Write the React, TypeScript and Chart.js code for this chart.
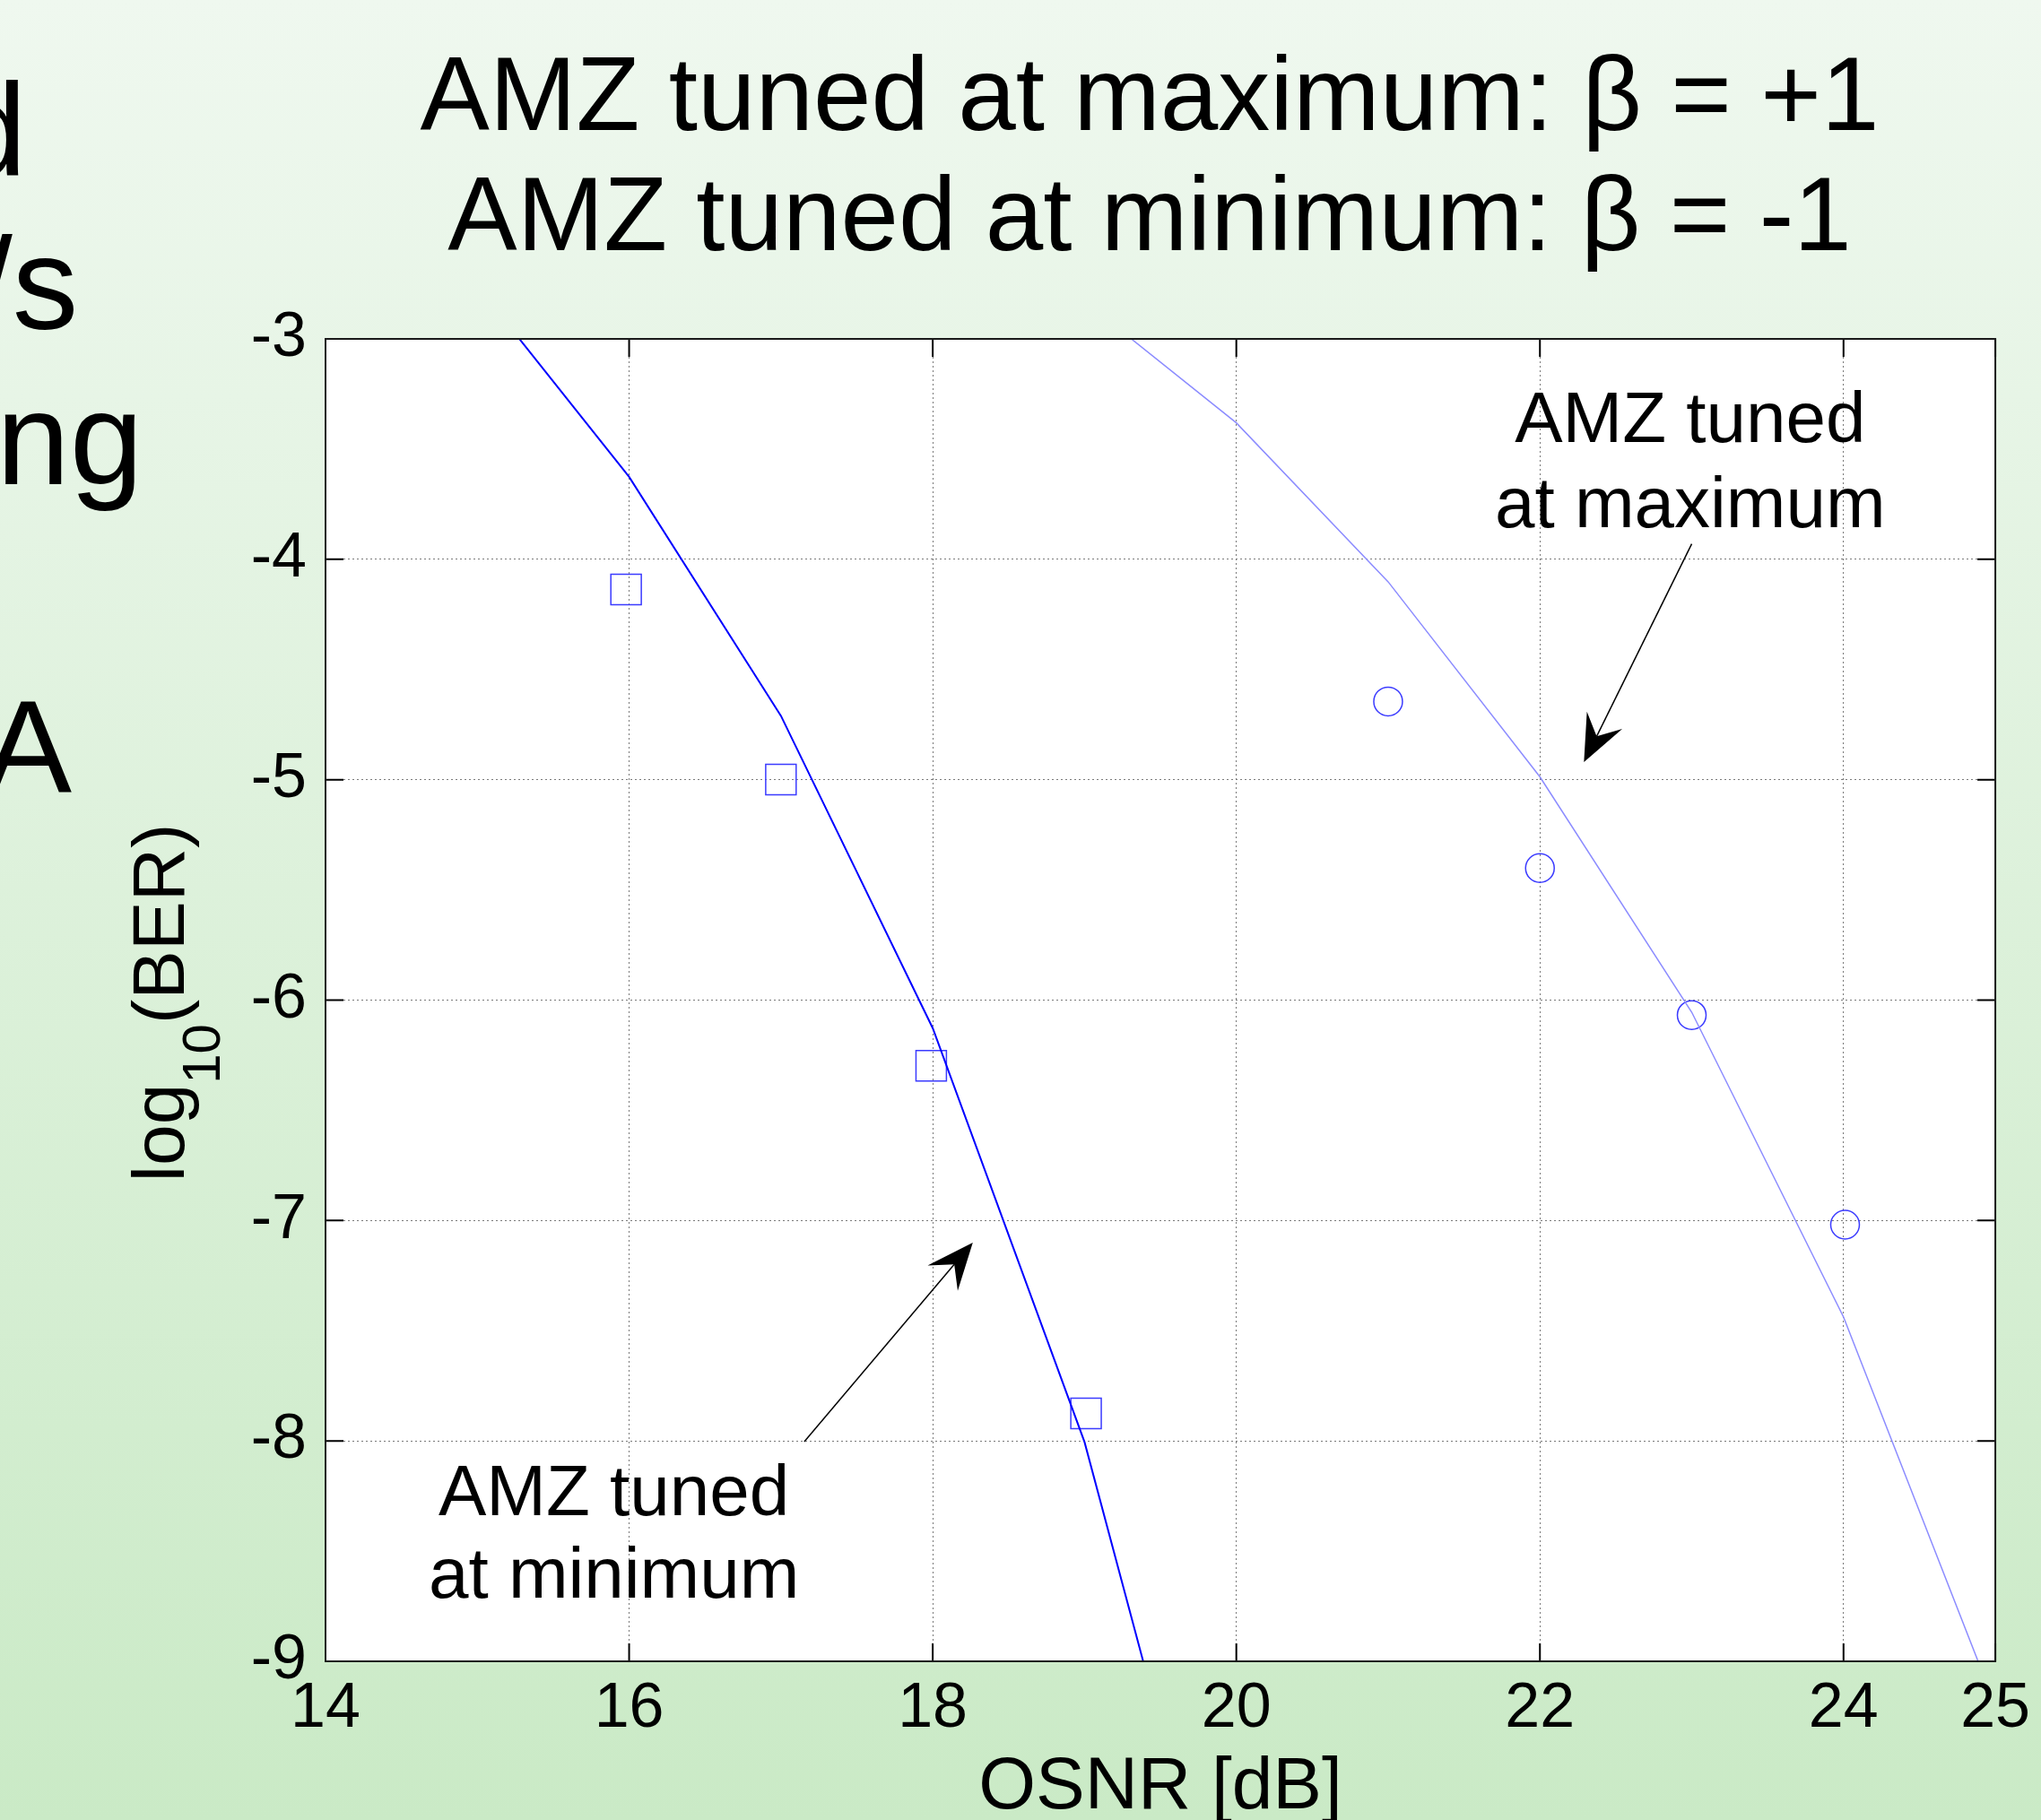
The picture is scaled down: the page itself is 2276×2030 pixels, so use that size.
import React, { useEffect, useRef } from 'react';
import { Chart, registerables } from 'chart.js';

Chart.register(...registerables);

// ---------------- data ----------------
const titleLines = ['AMZ tuned at maximum: β = +1', 'AMZ tuned at minimum: β = -1'];
const xAxisTitle = 'OSNR [dB]';
const yAxisTitleParts = ['log', '10', '(BER)'];
const xTickValues = [14, 16, 18, 20, 22, 24, 25];
const yTickValues = [-3, -4, -5, -6, -7, -8, -9];

// fitted curves
const minFitOsnr = [15, 16, 17, 18, 19, 20];
const minFitLogBer = [-2.76, -3.626, -4.71, -6.127, -8.005, -10.58];
const maxFitOsnr = [19, 20, 21, 22, 23, 24, 25];
const maxFitLogBer = [-2.83, -3.381, -4.102, -4.987, -6.055, -7.438, -9.2];

// measured points
const minMeasOsnr = [15.98, 17.0, 17.99, 19.01];
const minMeasLogBer = [-4.137, -4.999, -6.298, -7.875];
const maxMeasOsnr = [21.0, 22.0, 23.0, 24.01];
const maxMeasLogBer = [-4.645, -5.401, -6.068, -7.019];

// annotations (data coordinates)
const annotationText = [['AMZ tuned', 'at maximum'], ['AMZ tuned', 'at minimum']];
const annotationX = [22.99, 15.9];
const annotationY = [[-3.468, -3.854], [-8.337, -8.711]];
const arrowFrom = [[23.0, -3.93], [17.154, -8.003]];
const arrowTo = [[22.29, -4.92], [18.264, -7.1]];

// clipped slide text at the left edge
const slideFragments = ['d', '/s', 'ng', 'A'];

const FONT = '"Liberation Sans", Arial, Helvetica, sans-serif';

const toPoints = (xs: number[], ys: number[]) => xs.map((x, i) => ({ x, y: ys[i] }));

const decorPlugin = {
  id: 'decor',
  beforeDraw(chart: any) {
    const { ctx, width, height, chartArea: a } = chart;
    ctx.save();
    const g = ctx.createLinearGradient(0, 0, 0, height);
    g.addColorStop(0, '#eff8ef');
    g.addColorStop(1, '#caeac6');
    ctx.fillStyle = g;
    ctx.fillRect(0, 0, width, height);

    ctx.fillStyle = '#000';
    ctx.font = `147px ${FONT}`;
    ctx.textAlign = 'left';
    ctx.textBaseline = 'alphabetic';
    const pos = [[-52, 195], [-27, 367], [-4, 540], [-18, 884]];
    slideFragments.forEach((t, i) => ctx.fillText(t, pos[i][0], pos[i][1]));

    ctx.fillStyle = '#ffffff';
    ctx.fillRect(a.left, a.top, a.right - a.left, a.bottom - a.top);
    ctx.restore();
  },
  afterDraw(chart: any) {
    const { ctx, chartArea: a, scales } = chart;
    const xs = scales.x;
    const ys = scales.y;
    ctx.save();

    // inward tick marks on all four sides
    ctx.strokeStyle = '#000';
    ctx.lineWidth = 2;
    ctx.beginPath();
    xTickValues.forEach((v) => {
      const px = xs.getPixelForValue(v);
      ctx.moveTo(px, a.bottom);
      ctx.lineTo(px, a.bottom - 20);
      ctx.moveTo(px, a.top);
      ctx.lineTo(px, a.top + 20);
    });
    yTickValues.forEach((v) => {
      const py = ys.getPixelForValue(v);
      ctx.moveTo(a.left, py);
      ctx.lineTo(a.left + 20, py);
      ctx.moveTo(a.right, py);
      ctx.lineTo(a.right - 20, py);
    });
    ctx.stroke();

    // box
    ctx.strokeStyle = '#1a1a1a';
    ctx.lineWidth = 2;
    ctx.strokeRect(a.left, a.top, a.right - a.left, a.bottom - a.top);

    // annotation texts
    ctx.fillStyle = '#000';
    ctx.font = `80px ${FONT}`;
    ctx.textAlign = 'center';
    ctx.textBaseline = 'alphabetic';
    annotationText.forEach((lines, i) =>
      lines.forEach((t, j) =>
        ctx.fillText(t, xs.getPixelForValue(annotationX[i]), ys.getPixelForValue(annotationY[i][j]))
      )
    );

    // arrows
    arrowFrom.forEach((f, i) => {
      const x1 = xs.getPixelForValue(f[0]);
      const y1 = ys.getPixelForValue(f[1]);
      const x2 = xs.getPixelForValue(arrowTo[i][0]);
      const y2 = ys.getPixelForValue(arrowTo[i][1]);
      const dx = x2 - x1;
      const dy = y2 - y1;
      const L = Math.hypot(dx, dy);
      const ux = dx / L;
      const uy = dy / L;
      const px = -uy;
      const py = ux;
      const hl = 52;
      const hw = 22;
      const notch = 32;
      ctx.strokeStyle = '#000';
      ctx.lineWidth = 1.5;
      ctx.beginPath();
      ctx.moveTo(x1, y1);
      ctx.lineTo(x2 - ux * notch, y2 - uy * notch);
      ctx.stroke();
      ctx.beginPath();
      ctx.moveTo(x2, y2);
      ctx.lineTo(x2 - ux * hl + px * hw, y2 - uy * hl + py * hw);
      ctx.lineTo(x2 - ux * notch, y2 - uy * notch);
      ctx.lineTo(x2 - ux * hl - px * hw, y2 - uy * hl - py * hw);
      ctx.closePath();
      ctx.fill();
    });

    // title
    ctx.font = `116px ${FONT}`;
    ctx.textAlign = 'center';
    const cx = (a.left + a.right) / 2 - 12;
    ctx.fillText(titleLines[0], cx, 145);
    ctx.fillText(titleLines[1], cx, 279);

    // y axis title with subscript
    const mainF = `82px ${FONT}`;
    const subF = `60px ${FONT}`;
    ctx.font = mainF;
    const w1 = ctx.measureText(yAxisTitleParts[0]).width;
    const w3 = ctx.measureText(yAxisTitleParts[2]).width;
    ctx.font = subF;
    const w2 = ctx.measureText(yAxisTitleParts[1]).width;
    const total = w1 + w2 + w3;
    const cy = (a.top + a.bottom) / 2 + 3;
    ctx.translate(a.left - 158, cy + total / 2);
    ctx.rotate(-Math.PI / 2);
    ctx.textAlign = 'left';
    ctx.font = mainF;
    ctx.fillText(yAxisTitleParts[0], 0, 0);
    ctx.font = subF;
    ctx.fillText(yAxisTitleParts[1], w1, 40);
    ctx.font = mainF;
    ctx.fillText(yAxisTitleParts[2], w1 + w2, 0);

    ctx.restore();
  },
};

export default function App() {
  const ref = useRef<HTMLCanvasElement | null>(null);

  useEffect(() => {
    document.body.style.margin = '0';
    const canvas = ref.current;
    if (!canvas) return;

    const gridOpts = { color: '#7a7a7a', lineWidth: 1, drawTicks: false };
    const borderOpts = { display: false, dash: [2, 3] };

    const chart = new Chart(canvas, {
      type: 'scatter',
      data: {
        datasets: [
          {
            data: toPoints(minFitOsnr, minFitLogBer),
            showLine: true,
            borderColor: '#0000ff',
            borderWidth: 2,
            pointRadius: 0,
            tension: 0,
          },
          {
            data: toPoints(maxFitOsnr, maxFitLogBer),
            showLine: true,
            borderColor: '#8c8cff',
            borderWidth: 1.5,
            pointRadius: 0,
            tension: 0,
          },
          {
            data: toPoints(minMeasOsnr, minMeasLogBer),
            showLine: false,
            pointStyle: 'rect',
            pointRadius: 24,
            pointBorderColor: '#3b3bff',
            pointBackgroundColor: 'rgba(0,0,0,0)',
            pointBorderWidth: 1.5,
          },
          {
            data: toPoints(maxMeasOsnr, maxMeasLogBer),
            showLine: false,
            pointStyle: 'circle',
            pointRadius: 16,
            pointBorderColor: '#3b3bff',
            pointBackgroundColor: 'rgba(0,0,0,0)',
            pointBorderWidth: 1.5,
          },
        ],
      },
      options: {
        responsive: false,
        animation: false,
        events: [],
        devicePixelRatio: 1,
        layout: { padding: { left: 253, right: 40, top: 378, bottom: 0 } },
        plugins: {
          legend: { display: false },
          tooltip: { enabled: false },
          title: { display: false },
        },
        scales: {
          x: {
            type: 'linear',
            position: 'bottom',
            min: 14,
            max: 25,
            afterBuildTicks: (s: any) => {
              s.ticks = xTickValues.map((v) => ({ value: v }));
            },
            afterFit: (s: any) => {
              s.height = 177;
            },
            grid: gridOpts,
            border: borderOpts,
            ticks: {
              font: { family: FONT, size: 70 },
              color: '#000',
              padding: 12,
              maxRotation: 0,
              autoSkip: false,
              callback: (v: any) => String(v),
            },
            title: {
              display: true,
              text: xAxisTitle,
              color: '#000',
              font: { family: FONT, size: 82, lineHeight: 0.86 },
              padding: 0,
            },
          },
          y: {
            type: 'linear',
            min: -9,
            max: -3,
            afterBuildTicks: (s: any) => {
              s.ticks = yTickValues.map((v) => ({ value: v }));
            },
            afterFit: (s: any) => {
              s.width = 110;
            },
            grid: gridOpts,
            border: borderOpts,
            ticks: {
              font: { family: FONT, size: 70 },
              color: '#000',
              padding: 21,
              autoSkip: false,
              callback: (v: any) => String(v),
            },
          },
        },
      } as any,
      plugins: [decorPlugin],
    });

    return () => chart.destroy();
  }, []);

  return (
    <div style={{ width: 2276, height: 2030, overflow: 'hidden' }}>
      <canvas ref={ref} width={2276} height={2030} style={{ display: 'block', width: 2276, height: 2030 }} />
    </div>
  );
}
